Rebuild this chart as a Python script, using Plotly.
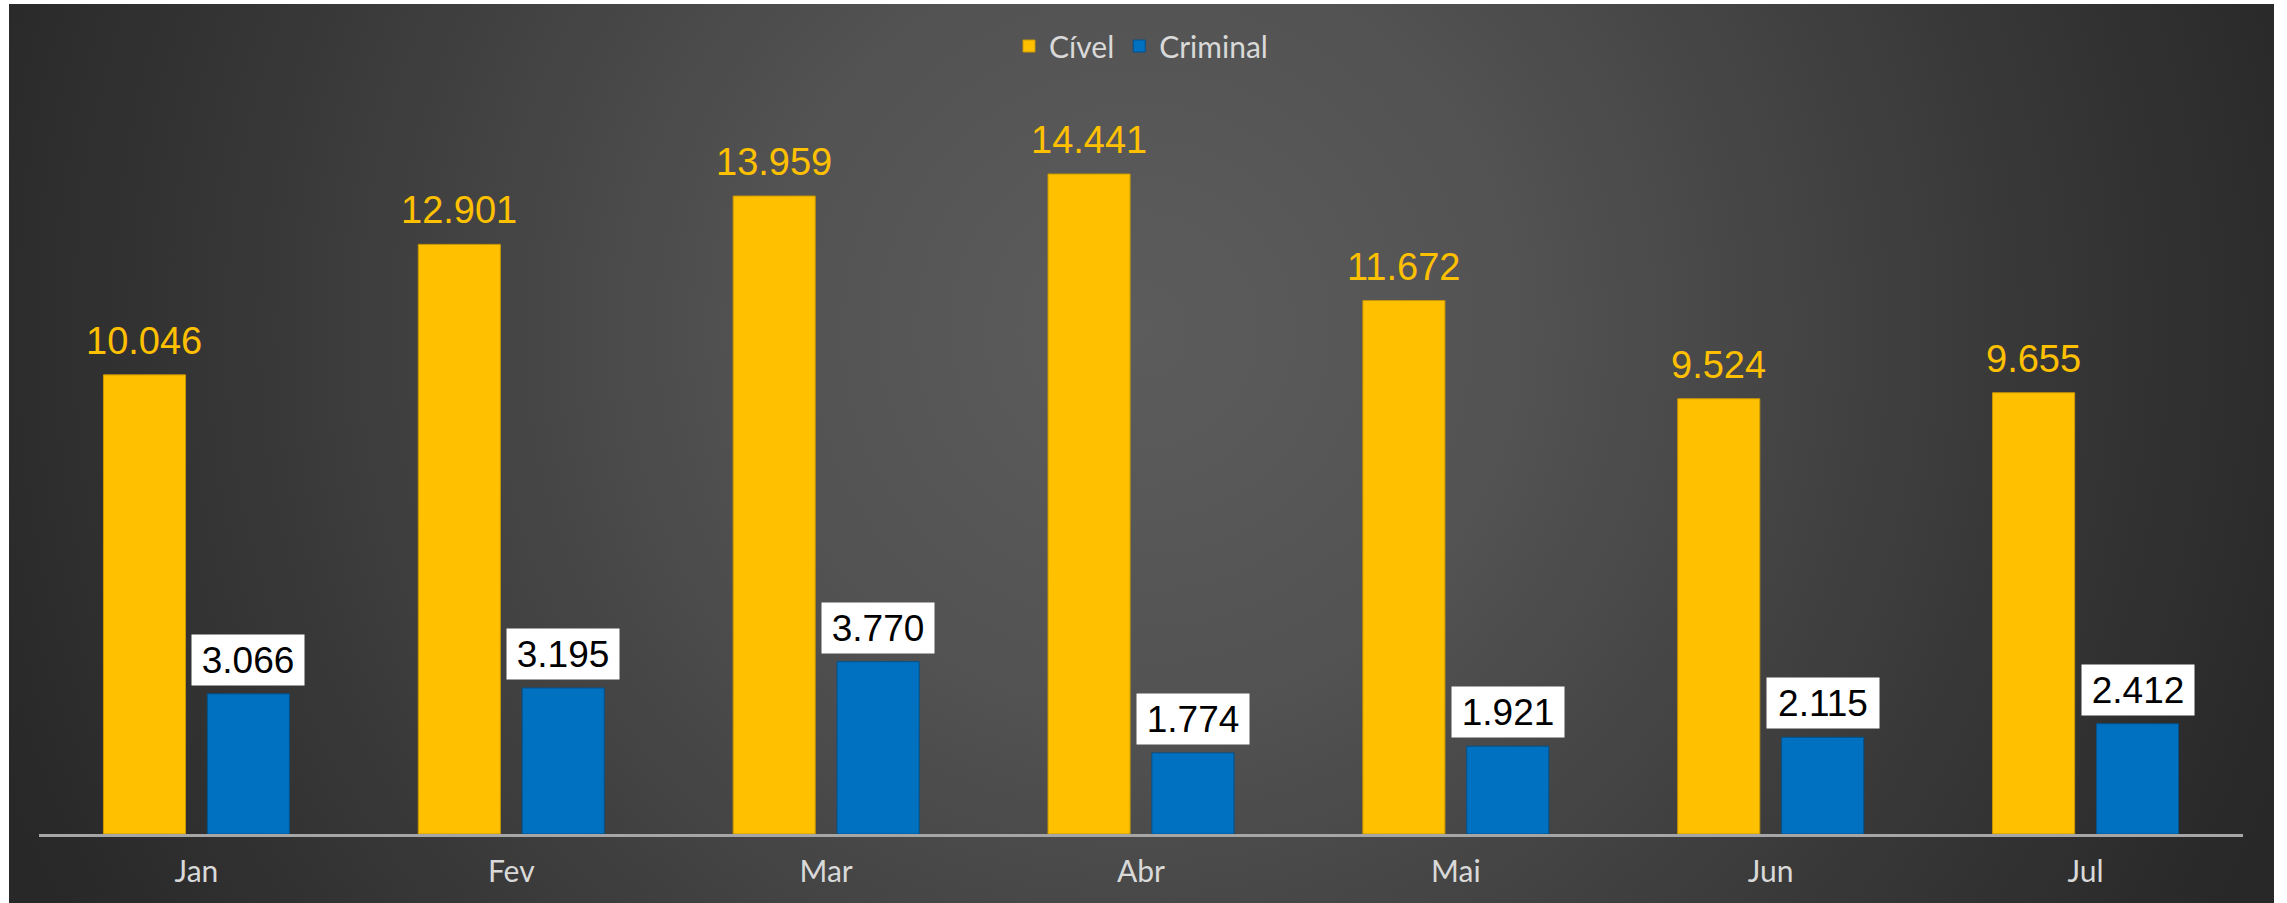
import base64
import plotly.graph_objects as go

months = ["Jan", "Fev", "Mar", "Abr", "Mai", "Jun", "Jul"]
civel = [10046, 12901, 13959, 14441, 11672, 9524, 9655]
criminal = [3066, 3195, 3770, 1774, 1921, 2115, 2412]
series_names = ["Cível", "Criminal"]

W, H = 2287, 903
ML, MR, MT, MB = 39, 44, 100, 69
YMAX = 16060
BARGAP = 0.34
GROUPGAP = 0.21

YELLOW = "#FFC000"
BLUE = "#0070C0"


def fmt(v):
    return f"{v:,}".replace(",", ".")


svg = f'''<svg xmlns="http://www.w3.org/2000/svg" width="{W}" height="{H}" viewBox="0 0 {W} {H}">
<defs><radialGradient id="g" gradientUnits="userSpaceOnUse" cx="1140" cy="330" r="1220">
<stop offset="0" stop-color="#5c5c5c"/><stop offset="0.3" stop-color="#535353"/>
<stop offset="0.75" stop-color="#363636"/><stop offset="1" stop-color="#282828"/></radialGradient></defs>
<rect x="9" y="4" width="2265" height="899" fill="url(#g)"/></svg>'''
src = "data:image/svg+xml;base64," + base64.b64encode(svg.encode()).decode()

fig = go.Figure()
fig.add_trace(go.Bar(x=months, y=civel, name=series_names[0],
                     marker=dict(color=YELLOW, line=dict(color="#C99700", width=1))))
fig.add_trace(go.Bar(x=months, y=criminal, name=series_names[1],
                     marker=dict(color=BLUE, line=dict(color="#00528C", width=1))))

plot_w = W - ML - MR
cat_w = plot_w / len(months)
slot = (1 - BARGAP) * cat_w / 2
shift = slot / 2

annotations = []
for m, v in zip(months, civel):
    annotations.append(dict(x=m, y=v, xref="x", yref="y", text=fmt(v), showarrow=False,
                            xshift=-shift, yshift=11, yanchor="bottom",
                            font=dict(family="Liberation Sans", size=38, color=YELLOW)))
for m, v in zip(months, criminal):
    annotations.append(dict(x=m, y=v, xref="x", yref="y", text=fmt(v), showarrow=False,
                            xshift=shift, yshift=8, yanchor="bottom",
                            bgcolor="#FFFFFF", width=112, height=50, borderpad=0,
                            font=dict(family="Liberation Sans", size=37, color="#000000")))

fig.update_layout(
    width=W, height=H,
    margin=dict(l=ML, r=MR, t=MT, b=MB),
    paper_bgcolor="#FFFFFF",
    plot_bgcolor="rgba(0,0,0,0)",
    barmode="group", bargap=BARGAP, bargroupgap=GROUPGAP,
    images=[dict(source=src, xref="paper", yref="paper", x=-ML / plot_w, y=1 + MT / (H - MT - MB),
                 sizex=W / plot_w, sizey=H / (H - MT - MB), xanchor="left", yanchor="top",
                 sizing="stretch", layer="below")],
    legend=dict(orientation="h", x=0.5, xanchor="center", xref="paper",
                y=1 - 46 / H, yref="container", yanchor="middle",
                font=dict(family="Lato", size=30, color="#D9D9D9"),
                bgcolor="rgba(0,0,0,0)"),
    xaxis=dict(showline=True, linecolor="#A6A6A6", linewidth=3, ticks="",
               ticklabelstandoff=9,
               tickfont=dict(family="Lato", size=30, color="#D9D9D9"),
               showgrid=False, zeroline=False, fixedrange=True),
    yaxis=dict(range=[0, YMAX], visible=False, showgrid=False, zeroline=False),
    annotations=annotations,
    showlegend=True,
)

fig.write_html("out.html", config={"displayModeBar": False},
               post_script="document.body.style.margin='0';document.body.style.overflow='hidden';")
